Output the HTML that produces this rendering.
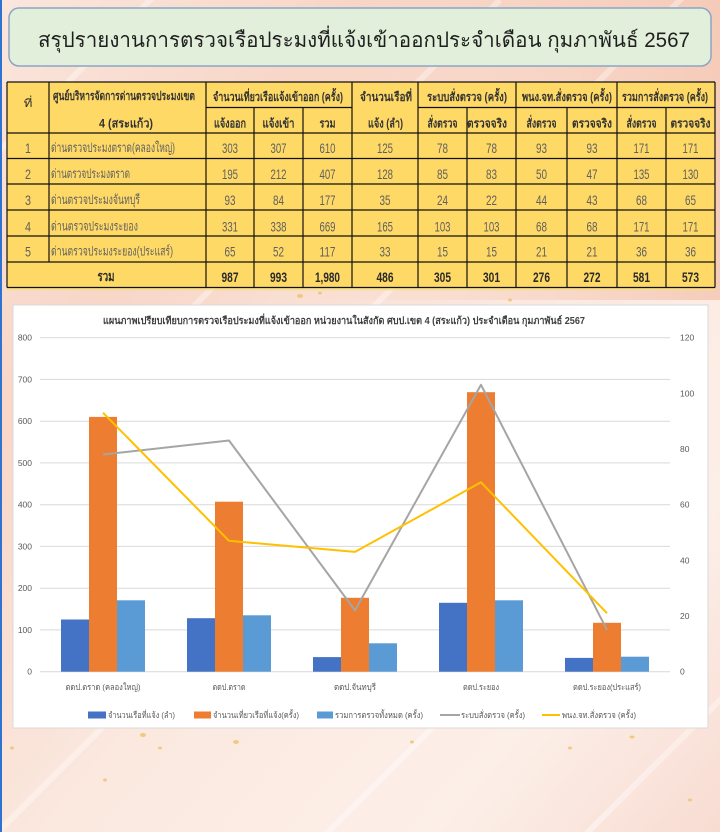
<!DOCTYPE html>
<html>
<head>
<meta charset="utf-8">
<style>
html,body{margin:0;padding:0;width:720px;height:832px;overflow:hidden;background:#fbeae2;}
svg{display:block;}
text{font-family:"Liberation Sans","DejaVu Sans",sans-serif;}
</style>
</head>
<body>
<svg width="720" height="832" viewBox="0 0 720 832" xmlns="http://www.w3.org/2000/svg">
<defs>
<linearGradient id="bg" x1="0" y1="0" x2="1" y2="1">
<stop offset="0" stop-color="#fae6dd"/>
<stop offset="0.25" stop-color="#f8d6c8"/>
<stop offset="0.55" stop-color="#fbe9e0"/>
<stop offset="0.8" stop-color="#fcefe8"/>
<stop offset="1" stop-color="#f8dcd2"/>
</linearGradient>
<linearGradient id="bgtr" x1="0" y1="0" x2="1" y2="0">
<stop offset="0" stop-color="#f6c9b6" stop-opacity="0"/>
<stop offset="1" stop-color="#f3bea8" stop-opacity="0.7"/>
</linearGradient>
</defs>
<rect x="0" y="0" width="720" height="832" fill="url(#bg)"/>
<rect x="300" y="0" width="420" height="300" fill="url(#bgtr)"/>
<g stroke="#ffffff" stroke-opacity="0.35" stroke-width="6">
<line x1="-50" y1="200" x2="250" y2="-100"/>
<line x1="100" y1="400" x2="500" y2="0"/>
<line x1="350" y1="330" x2="720" y2="-40"/>
<line x1="0" y1="830" x2="200" y2="630"/>
<line x1="300" y1="860" x2="500" y2="660"/>
<line x1="560" y1="860" x2="760" y2="660"/>
</g>
<g fill="#eec26a" fill-opacity="0.8">
<ellipse cx="143" cy="735" rx="3" ry="2"/>
<ellipse cx="160" cy="748" rx="2" ry="1.5"/>
<ellipse cx="236" cy="742" rx="3" ry="2"/>
<ellipse cx="12" cy="748" rx="2" ry="1.5"/>
<ellipse cx="412" cy="742" rx="2" ry="1.5"/>
<ellipse cx="570" cy="748" rx="2" ry="1.5"/>
<ellipse cx="632" cy="737" rx="2.5" ry="1.5"/>
<ellipse cx="105" cy="780" rx="2" ry="1.5"/>
<ellipse cx="300" cy="296" rx="3" ry="2"/>
<ellipse cx="320" cy="293" rx="2" ry="1.5"/>
<ellipse cx="510" cy="300" rx="2" ry="1.5"/>
<ellipse cx="690" cy="800" rx="2" ry="1.5"/>
</g>
<rect x="0" y="0" width="2" height="832" fill="#2f73d0"/>

<rect x="9" y="8" width="702" height="58" rx="10" ry="10" fill="#e2efda" stroke="#8aa6c4" stroke-width="1.5"/>
<text x="38" y="47" font-size="21" fill="#1f1f1f" textLength="652" lengthAdjust="spacingAndGlyphs">สรุปรายงานการตรวจเรือประมงที่แจ้งเข้าออกประจำเดือน กุมภาพันธ์ 2567</text>

<rect x="7" y="82" width="708" height="205.5" fill="#ffd966"/>
<rect x="7" y="287.5" width="708" height="3" fill="#f6df80" fill-opacity="0.7"/>
<g stroke="#111" stroke-width="1.2" fill="none">
<line x1="7" y1="82" x2="715" y2="82"/>
<line x1="206" y1="107.5" x2="352" y2="107.5"/>
<line x1="418" y1="107.5" x2="715" y2="107.5"/>
<line x1="7" y1="133" x2="715" y2="133"/>
<line x1="7" y1="158.5" x2="715" y2="158.5"/>
<line x1="7" y1="184" x2="715" y2="184"/>
<line x1="7" y1="210" x2="715" y2="210"/>
<line x1="7" y1="236" x2="715" y2="236"/>
<line x1="7" y1="262" x2="715" y2="262"/>
<line x1="7" y1="287.5" x2="715" y2="287.5"/>
<line x1="7" y1="82" x2="7" y2="287.5"/>
<line x1="715" y1="82" x2="715" y2="287.5"/>
<line x1="49" y1="82" x2="49" y2="262"/>
<line x1="206" y1="82" x2="206" y2="287.5"/>
<line x1="352" y1="82" x2="352" y2="287.5"/>
<line x1="418" y1="82" x2="418" y2="287.5"/>
<line x1="516" y1="82" x2="516" y2="287.5"/>
<line x1="617" y1="82" x2="617" y2="287.5"/>
<line x1="254" y1="107.5" x2="254" y2="287.5"/>
<line x1="303" y1="107.5" x2="303" y2="287.5"/>
<line x1="467" y1="107.5" x2="467" y2="287.5"/>
<line x1="567" y1="107.5" x2="567" y2="287.5"/>
<line x1="666" y1="107.5" x2="666" y2="287.5"/>
</g>
<text x="28" y="107" font-size="11" fill="#333" text-anchor="middle" textLength="9" lengthAdjust="spacingAndGlyphs">ที่</text>
<g font-size="12" font-weight="bold" fill="#333" text-anchor="middle">
<text x="124" y="100" textLength="142" lengthAdjust="spacingAndGlyphs">ศูนย์บริหารจัดการด่านตรวจประมงเขต</text>
<text x="126" y="127.5" textLength="54" lengthAdjust="spacingAndGlyphs">4 (สระแก้ว)</text>
<text x="278" y="101" textLength="130" lengthAdjust="spacingAndGlyphs">จำนวนเที่ยวเรือแจ้งเข้าออก (ครั้ง)</text>
<text x="230" y="127.5" textLength="32" lengthAdjust="spacingAndGlyphs">แจ้งออก</text>
<text x="278.5" y="127.5" textLength="32" lengthAdjust="spacingAndGlyphs">แจ้งเข้า</text>
<text x="327.5" y="127.5" textLength="16" lengthAdjust="spacingAndGlyphs">รวม</text>
<text x="386" y="101" textLength="52" lengthAdjust="spacingAndGlyphs">จำนวนเรือที่</text>
<text x="385.5" y="127.5" textLength="35" lengthAdjust="spacingAndGlyphs">แจ้ง (ลำ)</text>
<text x="467" y="101" textLength="80" lengthAdjust="spacingAndGlyphs">ระบบสั่งตรวจ (ครั้ง)</text>
<text x="567" y="101" textLength="90" lengthAdjust="spacingAndGlyphs">พนง.จท.สั่งตรวจ (ครั้ง)</text>
<text x="665" y="101" textLength="86" lengthAdjust="spacingAndGlyphs">รวมการสั่งตรวจ (ครั้ง)</text>
<text x="442.5" y="127.5" textLength="30" lengthAdjust="spacingAndGlyphs">สั่งตรวจ</text>
<text x="487" y="127.5" textLength="40" lengthAdjust="spacingAndGlyphs">ตรวจจริง</text>
<text x="541.5" y="127.5" textLength="30" lengthAdjust="spacingAndGlyphs">สั่งตรวจ</text>
<text x="592" y="127.5" textLength="40" lengthAdjust="spacingAndGlyphs">ตรวจจริง</text>
<text x="641.5" y="127.5" textLength="30" lengthAdjust="spacingAndGlyphs">สั่งตรวจ</text>
<text x="690.5" y="127.5" textLength="40" lengthAdjust="spacingAndGlyphs">ตรวจจริง</text>
</g>
<g font-size="14" fill="#606060" text-anchor="middle">
<text x="28" y="153" textLength="6" lengthAdjust="spacingAndGlyphs">1</text>
<text x="230" y="153" textLength="16" lengthAdjust="spacingAndGlyphs">303</text>
<text x="278.5" y="153" textLength="16" lengthAdjust="spacingAndGlyphs">307</text>
<text x="327.5" y="153" textLength="16" lengthAdjust="spacingAndGlyphs">610</text>
<text x="385" y="153" textLength="16" lengthAdjust="spacingAndGlyphs">125</text>
<text x="442.5" y="153" textLength="11" lengthAdjust="spacingAndGlyphs">78</text>
<text x="491.5" y="153" textLength="11" lengthAdjust="spacingAndGlyphs">78</text>
<text x="541.5" y="153" textLength="11" lengthAdjust="spacingAndGlyphs">93</text>
<text x="592" y="153" textLength="11" lengthAdjust="spacingAndGlyphs">93</text>
<text x="641.5" y="153" textLength="16" lengthAdjust="spacingAndGlyphs">171</text>
<text x="690.5" y="153" textLength="16" lengthAdjust="spacingAndGlyphs">171</text>
<text x="28" y="179" textLength="6" lengthAdjust="spacingAndGlyphs">2</text>
<text x="230" y="179" textLength="16" lengthAdjust="spacingAndGlyphs">195</text>
<text x="278.5" y="179" textLength="16" lengthAdjust="spacingAndGlyphs">212</text>
<text x="327.5" y="179" textLength="16" lengthAdjust="spacingAndGlyphs">407</text>
<text x="385" y="179" textLength="16" lengthAdjust="spacingAndGlyphs">128</text>
<text x="442.5" y="179" textLength="11" lengthAdjust="spacingAndGlyphs">85</text>
<text x="491.5" y="179" textLength="11" lengthAdjust="spacingAndGlyphs">83</text>
<text x="541.5" y="179" textLength="11" lengthAdjust="spacingAndGlyphs">50</text>
<text x="592" y="179" textLength="11" lengthAdjust="spacingAndGlyphs">47</text>
<text x="641.5" y="179" textLength="16" lengthAdjust="spacingAndGlyphs">135</text>
<text x="690.5" y="179" textLength="16" lengthAdjust="spacingAndGlyphs">130</text>
<text x="28" y="205" textLength="6" lengthAdjust="spacingAndGlyphs">3</text>
<text x="230" y="205" textLength="11" lengthAdjust="spacingAndGlyphs">93</text>
<text x="278.5" y="205" textLength="11" lengthAdjust="spacingAndGlyphs">84</text>
<text x="327.5" y="205" textLength="16" lengthAdjust="spacingAndGlyphs">177</text>
<text x="385" y="205" textLength="11" lengthAdjust="spacingAndGlyphs">35</text>
<text x="442.5" y="205" textLength="11" lengthAdjust="spacingAndGlyphs">24</text>
<text x="491.5" y="205" textLength="11" lengthAdjust="spacingAndGlyphs">22</text>
<text x="541.5" y="205" textLength="11" lengthAdjust="spacingAndGlyphs">44</text>
<text x="592" y="205" textLength="11" lengthAdjust="spacingAndGlyphs">43</text>
<text x="641.5" y="205" textLength="11" lengthAdjust="spacingAndGlyphs">68</text>
<text x="690.5" y="205" textLength="11" lengthAdjust="spacingAndGlyphs">65</text>
<text x="28" y="231.5" textLength="6" lengthAdjust="spacingAndGlyphs">4</text>
<text x="230" y="231.5" textLength="16" lengthAdjust="spacingAndGlyphs">331</text>
<text x="278.5" y="231.5" textLength="16" lengthAdjust="spacingAndGlyphs">338</text>
<text x="327.5" y="231.5" textLength="16" lengthAdjust="spacingAndGlyphs">669</text>
<text x="385" y="231.5" textLength="16" lengthAdjust="spacingAndGlyphs">165</text>
<text x="442.5" y="231.5" textLength="16" lengthAdjust="spacingAndGlyphs">103</text>
<text x="491.5" y="231.5" textLength="16" lengthAdjust="spacingAndGlyphs">103</text>
<text x="541.5" y="231.5" textLength="11" lengthAdjust="spacingAndGlyphs">68</text>
<text x="592" y="231.5" textLength="11" lengthAdjust="spacingAndGlyphs">68</text>
<text x="641.5" y="231.5" textLength="16" lengthAdjust="spacingAndGlyphs">171</text>
<text x="690.5" y="231.5" textLength="16" lengthAdjust="spacingAndGlyphs">171</text>
<text x="28" y="256.5" textLength="6" lengthAdjust="spacingAndGlyphs">5</text>
<text x="230" y="256.5" textLength="11" lengthAdjust="spacingAndGlyphs">65</text>
<text x="278.5" y="256.5" textLength="11" lengthAdjust="spacingAndGlyphs">52</text>
<text x="327.5" y="256.5" textLength="16" lengthAdjust="spacingAndGlyphs">117</text>
<text x="385" y="256.5" textLength="11" lengthAdjust="spacingAndGlyphs">33</text>
<text x="442.5" y="256.5" textLength="11" lengthAdjust="spacingAndGlyphs">15</text>
<text x="491.5" y="256.5" textLength="11" lengthAdjust="spacingAndGlyphs">15</text>
<text x="541.5" y="256.5" textLength="11" lengthAdjust="spacingAndGlyphs">21</text>
<text x="592" y="256.5" textLength="11" lengthAdjust="spacingAndGlyphs">21</text>
<text x="641.5" y="256.5" textLength="11" lengthAdjust="spacingAndGlyphs">36</text>
<text x="690.5" y="256.5" textLength="11" lengthAdjust="spacingAndGlyphs">36</text>
</g>
<g font-size="13" fill="#606060">
<text x="51" y="152" textLength="124" lengthAdjust="spacingAndGlyphs">ด่านตรวจประมงตราด(คลองใหญ่)</text>
<text x="51" y="178" textLength="79" lengthAdjust="spacingAndGlyphs">ด่านตรวจประมงตราด</text>
<text x="51" y="204" textLength="89" lengthAdjust="spacingAndGlyphs">ด่านตรวจประมงจันทบุรี</text>
<text x="51" y="230.5" textLength="87" lengthAdjust="spacingAndGlyphs">ด่านตรวจประมงระยอง</text>
<text x="51" y="255.5" textLength="122" lengthAdjust="spacingAndGlyphs">ด่านตรวจประมงระยอง(ประแสร์)</text>
</g>
<g font-size="14" font-weight="bold" fill="#2a2a2a" text-anchor="middle">
<text x="106" y="281" textLength="17" lengthAdjust="spacingAndGlyphs">รวม</text>
<text x="230" y="282" textLength="17" lengthAdjust="spacingAndGlyphs">987</text>
<text x="278.5" y="282" textLength="17" lengthAdjust="spacingAndGlyphs">993</text>
<text x="327.5" y="282" textLength="25" lengthAdjust="spacingAndGlyphs">1,980</text>
<text x="385" y="282" textLength="17" lengthAdjust="spacingAndGlyphs">486</text>
<text x="442.5" y="282" textLength="17" lengthAdjust="spacingAndGlyphs">305</text>
<text x="491.5" y="282" textLength="17" lengthAdjust="spacingAndGlyphs">301</text>
<text x="541.5" y="282" textLength="17" lengthAdjust="spacingAndGlyphs">276</text>
<text x="592" y="282" textLength="17" lengthAdjust="spacingAndGlyphs">272</text>
<text x="641.5" y="282" textLength="17" lengthAdjust="spacingAndGlyphs">581</text>
<text x="690.5" y="282" textLength="17" lengthAdjust="spacingAndGlyphs">573</text>
</g>

<rect x="13" y="305" width="695" height="423" fill="#ffffff" stroke="#d9d9d9" stroke-width="1"/>
<text x="103" y="324" font-size="10" font-weight="bold" fill="#404040" textLength="482" lengthAdjust="spacingAndGlyphs">แผนภาพเปรียบเทียบการตรวจเรือประมงที่แจ้งเข้าออก หน่วยงานในสังกัด ศบป.เขต 4 (สระแก้ว) ประจำเดือน กุมภาพันธ์ 2567</text>
<g stroke="#d9d9d9" stroke-width="1">
<line x1="40" y1="337.7" x2="670" y2="337.7"/>
<line x1="40" y1="379.4" x2="670" y2="379.4"/>
<line x1="40" y1="421.2" x2="670" y2="421.2"/>
<line x1="40" y1="462.9" x2="670" y2="462.9"/>
<line x1="40" y1="504.7" x2="670" y2="504.7"/>
<line x1="40" y1="546.4" x2="670" y2="546.4"/>
<line x1="40" y1="588.2" x2="670" y2="588.2"/>
<line x1="40" y1="629.9" x2="670" y2="629.9"/>
<line x1="40" y1="671.7" x2="670" y2="671.7"/>
</g>
<g font-size="8.5" fill="#595959" text-anchor="end">
<text x="32" y="340.7">800</text>
<text x="32" y="382.4">700</text>
<text x="32" y="424.2">600</text>
<text x="32" y="465.9">500</text>
<text x="32" y="507.7">400</text>
<text x="32" y="549.4">300</text>
<text x="32" y="591.2">200</text>
<text x="32" y="632.9">100</text>
<text x="32" y="674.7">0</text>
</g>
<g font-size="8.5" fill="#595959">
<text x="680" y="340.7">120</text>
<text x="680" y="396.3">100</text>
<text x="680" y="452">80</text>
<text x="680" y="507.7">60</text>
<text x="680" y="563.4">40</text>
<text x="680" y="619">20</text>
<text x="680" y="674.7">0</text>
</g>
<g fill="#4472c4">
<rect x="61" y="619.5" width="28" height="52.2"/>
<rect x="187" y="618.2" width="28" height="53.5"/>
<rect x="313" y="657.1" width="28" height="14.6"/>
<rect x="439" y="602.8" width="28" height="68.9"/>
<rect x="565" y="657.9" width="28" height="13.8"/>
</g>
<g fill="#ed7d31">
<rect x="89" y="416.9" width="28" height="254.8"/>
<rect x="215" y="501.7" width="28" height="170"/>
<rect x="341" y="597.8" width="28" height="73.9"/>
<rect x="467" y="392.2" width="28" height="279.5"/>
<rect x="593" y="622.8" width="28" height="48.9"/>
</g>
<g fill="#5b9bd5">
<rect x="117" y="600.3" width="28" height="71.4"/>
<rect x="243" y="615.3" width="28" height="56.4"/>
<rect x="369" y="643.3" width="28" height="28.4"/>
<rect x="495" y="600.3" width="28" height="71.4"/>
<rect x="621" y="656.7" width="28" height="15"/>
</g>
<polyline points="103,454.5 229,440.5 355,610.4 481,384.8 607,629.9" fill="none" stroke="#a5a5a5" stroke-width="2" stroke-linejoin="round"/>
<polyline points="103,412.7 229,540.8 355,551.9 481,482.3 607,613.2" fill="none" stroke="#ffc000" stroke-width="2" stroke-linejoin="round"/>
<g font-size="8.5" fill="#595959" text-anchor="middle">
<text x="103" y="690" textLength="75" lengthAdjust="spacingAndGlyphs">ตดป.ตราด (คลองใหญ่)</text>
<text x="229" y="690" textLength="33" lengthAdjust="spacingAndGlyphs">ตดป.ตราด</text>
<text x="355" y="690" textLength="42" lengthAdjust="spacingAndGlyphs">ตดป.จันทบุรี</text>
<text x="481" y="690" textLength="36" lengthAdjust="spacingAndGlyphs">ตดป.ระยอง</text>
<text x="607" y="690" textLength="68" lengthAdjust="spacingAndGlyphs">ตดป.ระยอง(ประแสร์)</text>
</g>
<rect x="88" y="711.5" width="18" height="7" fill="#4472c4"/>
<rect x="194" y="711.5" width="17" height="7" fill="#ed7d31"/>
<rect x="317" y="711.5" width="16" height="7" fill="#5b9bd5"/>
<line x1="440" y1="715" x2="460" y2="715" stroke="#a5a5a5" stroke-width="2"/>
<line x1="542" y1="715" x2="560" y2="715" stroke="#ffc000" stroke-width="2"/>
<g font-size="8.5" fill="#595959">
<text x="108" y="718" textLength="67" lengthAdjust="spacingAndGlyphs">จำนวนเรือที่แจ้ง (ลำ)</text>
<text x="213" y="718" textLength="86" lengthAdjust="spacingAndGlyphs">จำนวนเที่ยวเรือที่แจ้ง(ครั้ง)</text>
<text x="335" y="718" textLength="88" lengthAdjust="spacingAndGlyphs">รวมการตรวจทั้งหมด (ครั้ง)</text>
<text x="461" y="718" textLength="64" lengthAdjust="spacingAndGlyphs">ระบบสั่งตรวจ (ครั้ง)</text>
<text x="562" y="718" textLength="74" lengthAdjust="spacingAndGlyphs">พนง.จท.สั่งตรวจ (ครั้ง)</text>
</g>
</svg>
</body>
</html>
